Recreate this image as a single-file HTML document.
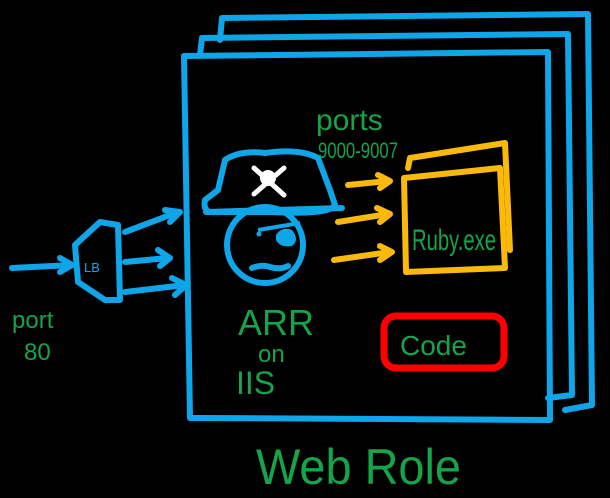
<!DOCTYPE html>
<html><head><style>html,body{margin:0;padding:0;background:#000;}svg{display:block}</style></head>
<body>
<svg width="610" height="498" viewBox="0 0 610 498" xmlns="http://www.w3.org/2000/svg">
<rect width="610" height="498" fill="#000"/>
<g fill="none" stroke="#0ea5e9" stroke-width="6" stroke-linecap="round" stroke-linejoin="round">
<path d="M220 40 L222 18 L588 14 L592 405 L565 410"/>
<path d="M200 55 L202 38 L568 34 L572 395 L548 398"/>
<path d="M184 56 L548 52 L550 420 L205 418 L190 418 Z"/>
<path d="M218 190 L225 160 Q240 150 265 153 Q300 148 318 158 L330 190 L335 205 Q330 215 270 212 L210 212 Q203 210 205 200 Z"/>
<path d="M206 212 L342 208"/>
<circle cx="265" cy="245" r="38"/>
<path d="M252 268 Q262 264 270 267 Q280 270 288 266"/>
<path d="M75 245 L78 282 L105 300 L120 300 L118 225 L100 222 Z"/>
<path d="M12 268 L72 265 M60 258 L72 265 L60 272"/>
<path d="M125 232 L178 212 M165 210 L180 212 L170 222"/>
<path d="M125 262 L168 258 M158 250 L170 258 L160 266"/>
<path d="M125 292 L185 285 M172 278 L186 285 L175 295"/>
</g>
<circle cx="259" cy="234" r="2.5" fill="#0ea5e9"/>
<path d="M276 235 Q282 226 292 230 Q300 240 292 246 Q280 248 276 240 Z" fill="#0ea5e9"/>
<path d="M258 230 L300 223" stroke="#0ea5e9" stroke-width="4"/>
<g fill="#fff"><circle cx="268" cy="178" r="8"/><path d="M254 168 L284 195 M284 168 L254 194" stroke="#fff" stroke-width="5" stroke-linecap="round"/></g>
<g fill="none" stroke="#fbb909" stroke-width="6" stroke-linecap="round" stroke-linejoin="round">
<path d="M348 185 L388 181 M378 175 L390 181 L380 188"/>
<path d="M338 222 L388 214 M377 208 L390 214 L380 222"/>
<path d="M334 260 L390 252 M380 246 L392 252 L380 260"/>
<path d="M408 168 L410 158 L505 143 L510 250"/>
<path d="M404 178 L500 168 L505 268 L406 272 Z"/>
</g>
<rect x="384" y="316" width="120" height="52" rx="12" fill="none" stroke="#f00" stroke-width="7"/>
<g fill="#16a34a" font-family="'Liberation Sans',sans-serif">
<text x="316" y="130" font-size="30">ports</text>
<text x="318" y="158" font-size="22" textLength="80" lengthAdjust="spacingAndGlyphs">9000-9007</text>
<text x="412" y="250" font-size="30" textLength="84" lengthAdjust="spacingAndGlyphs">Ruby.exe</text>
<text x="400" y="355" font-size="28">Code</text>
<text x="238" y="335" font-size="36">ARR</text>
<text x="258" y="362" font-size="24">on</text>
<text x="236" y="394" font-size="32">IIS</text>
<text x="12" y="328" font-size="24">port</text>
<text x="24" y="360" font-size="24">80</text>
<text x="256" y="484" font-size="50" textLength="205" lengthAdjust="spacingAndGlyphs">Web Role</text>
<text x="84" y="272" font-size="13" fill="#0ea5e9">LB</text>
</g>
</svg>
</body></html>
